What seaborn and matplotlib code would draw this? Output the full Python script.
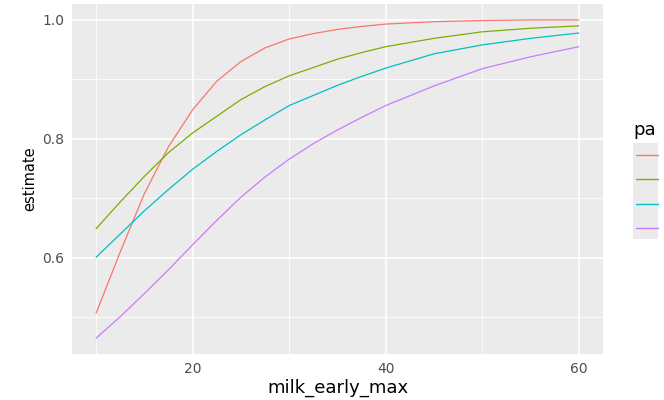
import matplotlib
matplotlib.use("Agg")
import matplotlib.pyplot as plt
import seaborn as sns
import pandas as pd
from matplotlib.patches import Rectangle
from matplotlib.lines import Line2D

# ---- data ----
milk_early_max = [10, 12.5, 15, 17.5, 20, 22.5, 25, 27.5, 30, 32.5, 35, 37.5, 40, 45, 50, 55, 60]
est_1 = [0.507, 0.610, 0.708, 0.787, 0.849, 0.897, 0.930, 0.953, 0.968, 0.977, 0.984, 0.989, 0.993, 0.997, 0.999, 1.000, 1.000]
est_2 = [0.649, 0.694, 0.737, 0.777, 0.810, 0.838, 0.866, 0.888, 0.906, 0.920, 0.934, 0.945, 0.955, 0.969, 0.980, 0.986, 0.990]
est_3 = [0.601, 0.640, 0.679, 0.715, 0.749, 0.779, 0.807, 0.832, 0.856, 0.873, 0.890, 0.905, 0.919, 0.943, 0.958, 0.969, 0.978]
est_4 = [0.465, 0.501, 0.540, 0.580, 0.622, 0.663, 0.702, 0.736, 0.766, 0.792, 0.815, 0.836, 0.856, 0.889, 0.918, 0.938, 0.955]
groups = ["1", "2", "3", "4"]
hue_name = "pa"
colors = ["#F8766D", "#7CAE00", "#00BFC4", "#C77CFF"]
x_ticks = [20, 40, 60]
y_ticks = [0.6, 0.8, 1.0]

rows = []
for g, ys in zip(groups, [est_1, est_2, est_3, est_4]):
    for xv, yv in zip(milk_early_max, ys):
        rows.append({"milk_early_max": xv, "estimate": yv, hue_name: g})
df = pd.DataFrame(rows)

sns.set_style("darkgrid", {"axes.facecolor": "#EBEBEB", "grid.color": "white"})
plt.rcParams["font.family"] = ["DejaVu Sans"]

W, H = 664, 400
fig = plt.figure(figsize=(W / 100, H / 100), dpi=100)
ax = fig.add_axes([72 / W, 1 - 354 / H, (603 - 72) / W, (354 - 4) / H])

sns.lineplot(data=df, x="milk_early_max", y="estimate", hue=hue_name,
             palette=dict(zip(groups, colors)), linewidth=0.9, ax=ax, legend=False)

# ggplot-like expansion
xmin, xmax = min(milk_early_max), max(milk_early_max)
allv = est_1 + est_2 + est_3 + est_4
ymin, ymax = min(allv), max(allv)
ax.set_xlim(xmin - 0.05 * (xmax - xmin), xmax + 0.05 * (xmax - xmin))
ax.set_ylim(ymin - 0.05 * (ymax - ymin), ymax + 0.05 * (ymax - ymin))

ax.set_xticks(x_ticks)
ax.set_yticks(y_ticks)
ax.set_yticklabels([f"{v:.1f}" for v in y_ticks])
ax.set_xticks([10, 30, 50], minor=True)
ax.set_yticks([0.5, 0.7, 0.9], minor=True)
ax.grid(which="major", color="white", linewidth=1.2)
ax.grid(which="minor", color="white", linewidth=0.6)
ax.set_axisbelow(True)
for s in ax.spines.values():
    s.set_visible(False)
ax.tick_params(which="major", length=3.5, width=0.9, color="#333333",
               labelcolor="#4D4D4D", labelsize=10, pad=2)
ax.tick_params(which="minor", length=0)
ax.set_xlabel("milk_early_max", fontsize=13, color="black", labelpad=2)
ax.set_ylabel("estimate", fontsize=10.5, color="black", labelpad=4)

# legend (cut off at the right edge, as in the reference)
fig.text(633 / W, 1 - 130 / H, hue_name, fontsize=13, color="black",
         ha="left", va="center")
rect = Rectangle((633 / W, 1 - 239 / H), (658 - 633) / W, 96 / H,
                 transform=fig.transFigure, facecolor="#EBEBEB", edgecolor="none")
fig.patches.append(rect)
for i, c in enumerate(colors):
    yk = 1 - (155 + 24.3 * i) / H
    fig.lines.append(Line2D([636 / W, 658 / W], [yk, yk], transform=fig.transFigure,
                            color=c, linewidth=1.0))

fig.savefig("out.png", dpi=100)
